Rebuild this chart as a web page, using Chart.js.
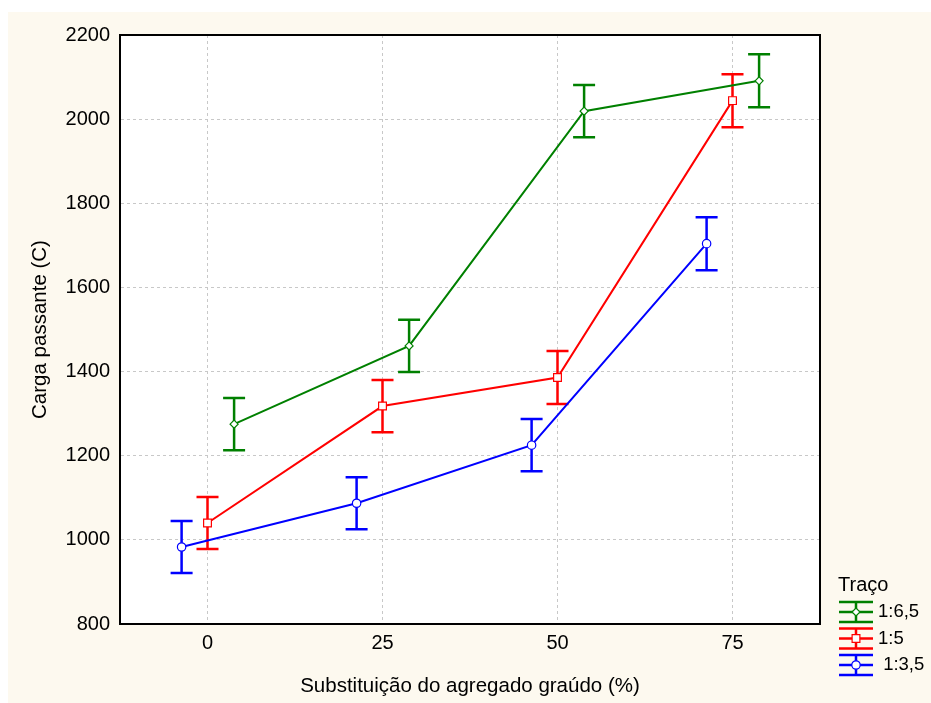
<!DOCTYPE html>
<html lang="pt">
<head>
  <meta charset="UTF-8">
  <title>Carga passante x Substituição do agregado graúdo</title>
  <script src="https://cdn.jsdelivr.net/npm/chart.js"></script>
  <style>
    body {
      margin: 0;
      background: #ffffff;
      font-family: 'Liberation Sans', Arial, sans-serif;
    }
    .wrap {
      position: relative;
      width: 931px;
      height: 703px;
    }
    .paper {
      position: absolute;
      left: 8px;
      top: 12px;
      width: 923px;
      height: 691px;
      background: #fdf9ef;
    }
    canvas {
      position: absolute;
      left: 0;
      top: 0;
    }
  </style>
</head>
<body>
  <div class="wrap">
    <div class="paper"></div>
    <canvas id="chart" width="931" height="703"></canvas>
  </div>

  <script>
    // data
    const substituicao = [0, 25, 50, 75];
    const yTicks = [800, 1000, 1200, 1400, 1600, 1800, 2000, 2200];

    const tracos = ['1:6,5', '1:5', ' 1:3,5'];
    const carga65 = [1275, 1461, 2019, 2091];
    const carga5 = [1040, 1318, 1386, 2044];
    const carga35 = [983, 1087, 1225, 1704];
    const erro65 = [62, 62, 62, 63];
    const erro5 = [62, 62, 63, 63];
    const erro35 = [62, 62, 62, 63];

    // Statistica shifts the groups sideways a little so the bars don't overlap
    const dodge = [3.8, 0, -3.7];
    const colors = ['#008000', '#ff0000', '#0000ff'];
    const markers = ['rectRot', 'rect', 'circle'];
    const markerSize = [4, 5.5, 4.2];

    const means = [carga65, carga5, carga35];
    const errs = [erro65, erro5, erro35];

    const FONT = "'Liberation Sans', Arial, sans-serif";

    const datasets = tracos.map((label, s) => ({
      label: label,
      data: substituicao.map((x, i) => ({ x: x + dodge[s], y: means[s][i], err: errs[s][i] })),
      borderColor: colors[s],
      borderWidth: 2,
      backgroundColor: '#ffffff',
      pointBackgroundColor: '#ffffff',
      pointBorderColor: colors[s],
      pointBorderWidth: 1.2,
      pointStyle: markers[s],
      pointRadius: markerSize[s],
      tension: 0,
      fill: false
    }));

    // error bars go under the lines and markers
    const errorBars = {
      id: 'errorBars',
      beforeDatasetsDraw(chart) {
        const ctx = chart.ctx;
        const xs = chart.scales.x, ys = chart.scales.y;
        ctx.save();
        chart.data.datasets.forEach((ds) => {
          ctx.strokeStyle = ds.borderColor;
          ctx.lineWidth = 2.5;
          ds.data.forEach((p) => {
            const px = xs.getPixelForValue(p.x);
            const top = ys.getPixelForValue(p.y + p.err);
            const bot = ys.getPixelForValue(p.y - p.err);
            ctx.beginPath();
            ctx.moveTo(px, top); ctx.lineTo(px, bot);
            ctx.moveTo(px - 11, top); ctx.lineTo(px + 11, top);
            ctx.moveTo(px - 11, bot); ctx.lineTo(px + 11, bot);
            ctx.stroke();
          });
        });
        ctx.restore();
      }
    };

    // white plot area and a closed black frame
    const plotBg = {
      id: 'plotBg',
      beforeDraw(chart) {
        const { ctx, chartArea: a } = chart;
        ctx.save();
        ctx.fillStyle = '#ffffff';
        ctx.fillRect(a.left, a.top, a.right - a.left, a.bottom - a.top);
        ctx.restore();
      },
      afterDraw(chart) {
        const { ctx, chartArea: a } = chart;
        ctx.save();
        ctx.strokeStyle = '#000000';
        ctx.lineWidth = 2;
        ctx.strokeRect(a.left, a.top, a.right - a.left, a.bottom - a.top);
        ctx.restore();
      }
    };

    // legend in the lower right corner, symbol looks like the error bar
    const legendBox = {
      id: 'legendBox',
      afterDraw(chart) {
        const { ctx, chartArea: a } = chart;
        const x0 = a.right + 19, x1 = a.right + 53, xm = (x0 + x1) / 2;
        ctx.save();
        ctx.fillStyle = '#000000';
        ctx.textBaseline = 'middle';
        ctx.font = '20px ' + FONT;
        ctx.fillText('Traço', a.right + 18, a.bottom - 39);
        ctx.font = '18.5px ' + FONT;
        chart.data.datasets.forEach((ds, i) => {
          const yc = a.bottom - 12 + i * 26.5;
          ctx.strokeStyle = ds.borderColor;
          ctx.lineWidth = 2.5;
          ctx.beginPath();
          ctx.moveTo(x0, yc - 10); ctx.lineTo(x1, yc - 10);
          ctx.moveTo(x0, yc); ctx.lineTo(x1, yc);
          ctx.moveTo(x0, yc + 10); ctx.lineTo(x1, yc + 10);
          ctx.moveTo(xm, yc - 10); ctx.lineTo(xm, yc + 10);
          ctx.stroke();
          ctx.lineWidth = 1.2;
          ctx.fillStyle = '#ffffff';
          Chart.helpers.drawPoint(ctx, {
            pointStyle: ds.pointStyle,
            radius: ds.pointRadius,
            borderWidth: 1.2
          }, xm, yc);
          ctx.fillStyle = '#000000';
          ctx.fillText(ds.label, x1 + 5, yc);
        });
        ctx.restore();
      }
    };

    new Chart(document.getElementById('chart'), {
      type: 'line',
      data: { datasets: datasets },
      plugins: [plotBg, errorBars, legendBox],
      options: {
        responsive: false,
        animation: false,
        devicePixelRatio: 1,
        layout: { padding: { left: 0, top: 35, right: 111, bottom: 0 } },
        plugins: {
          legend: { display: false },
          tooltip: { enabled: false }
        },
        scales: {
          x: {
            type: 'linear',
            min: -12.5,
            max: 87.5,
            afterBuildTicks(scale) {
              scale.ticks = substituicao.map(v => ({ value: v }));
            },
            afterFit(scale) { scale.height = 79; },
            grid: { color: '#c8c8c8', lineWidth: 1, drawTicks: false },
            border: { color: '#000000', width: 2, dash: [3, 3] },
            ticks: {
              color: '#000000',
              font: { family: FONT, size: 20 },
              padding: 7,
              callback: (v) => String(v)
            },
            title: {
              display: true,
              text: 'Substituição do agregado graúdo (%)',
              color: '#000000',
              font: { family: FONT, size: 20.5 },
              padding: { top: 8, bottom: 4 }
            }
          },
          y: {
            min: 800,
            max: 2200,
            afterBuildTicks(scale) {
              scale.ticks = yTicks.map(v => ({ value: v }));
            },
            afterFit(scale) { scale.width = 120; },
            grid: { color: '#c8c8c8', lineWidth: 1, drawTicks: false },
            border: { color: '#000000', width: 2, dash: [3, 3] },
            ticks: {
              color: '#000000',
              font: { family: FONT, size: 20 },
              padding: 10,
              callback: (v) => String(v)
            },
            title: {
              display: true,
              text: 'Carga passante (C)',
              color: '#000000',
              font: { family: FONT, size: 20.5 },
              padding: { top: 28, bottom: 0 }
            }
          }
        }
      }
    });
  </script>
</body>
</html>
